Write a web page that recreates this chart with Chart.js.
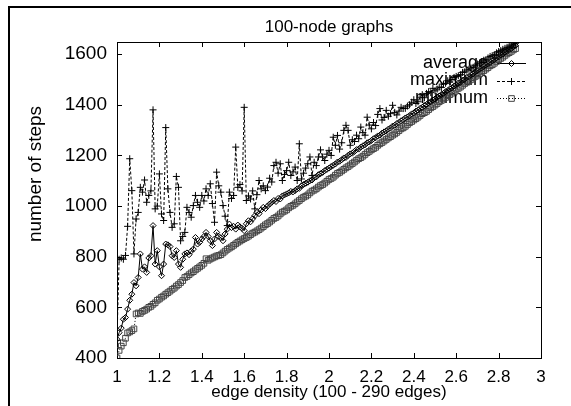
<!DOCTYPE html>
<html>
<head>
<meta charset="utf-8">
<script src="https://cdn.jsdelivr.net/npm/chart.js@4/dist/chart.umd.min.js"></script>
<style>
  html, body { margin: 0; padding: 0; background: #fff; }
  #wrap { width: 571px; height: 406px; }
</style>
</head>
<body>
<div id="wrap"><canvas id="c" width="571" height="406"></canvas></div>
<script>
// edges in a 100-node graph; density = edges / 100
const edgeCounts = [
  100, 101, 102, 103, 104, 105, 106, 107, 108, 109,
  110, 111, 112, 113, 114, 115, 116, 117, 118, 119,
  120, 121, 122, 123, 124, 125, 126, 127, 128, 129,
  130, 131, 132, 133, 134, 135, 136, 137, 138, 139,
  140, 141, 142, 143, 144, 145, 146, 147, 148, 149,
  150, 151, 152, 153, 154, 155, 156, 157, 158, 159,
  160, 161, 162, 163, 164, 165, 166, 167, 168, 169,
  170, 171, 172, 173, 174, 175, 176, 177, 178, 179,
  180, 181, 182, 183, 184, 185, 186, 187, 188, 189,
  190, 191, 192, 193, 194, 195, 196, 197, 198, 199,
  200, 201, 202, 203, 204, 205, 206, 207, 208, 209,
  210, 211, 212, 213, 214, 215, 216, 217, 218, 219,
  220, 221, 222, 223, 224, 225, 226, 227, 228, 229,
  230, 231, 232, 233, 234, 235, 236, 237, 238, 239,
  240, 241, 242, 243, 244, 245, 246, 247, 248, 249,
  250, 251, 252, 253, 254, 255, 256, 257, 258, 259,
  260, 261, 262, 263, 264, 265, 266, 267, 268, 269,
  270, 271, 272, 273, 274, 275, 276, 277, 278, 279,
  280, 281, 282, 283, 284, 285, 286, 287, 288
];

const avgSteps = [
  474, 500, 518, 553, 560, 593, 628, 652, 698, 685,
  718, 811, 751, 760, 738, 795, 804, 923, 771, 824,
  760, 725, 771, 850, 847, 840, 804, 797, 824, 771,
  758, 790, 811, 815, 808, 822, 830, 876, 850, 857,
  870, 880, 896, 880, 863, 844, 870, 896, 880, 875,
  863, 890, 909, 929, 915, 920, 909, 925, 918, 912,
  903, 930, 942, 938, 950, 962, 975, 970, 985, 995,
  990, 1000, 1008, 1015, 1022, 1018, 1030, 1028, 1040, 1044,
  1048, 1052, 1058, 1056, 1061, 1068, 1070, 1080, 1085, 1090,
  1094, 1100, 1103, 1112, 1115, 1124, 1128, 1133, 1140, 1145,
  1150, 1156, 1161, 1166, 1174, 1177, 1183, 1190, 1192, 1200,
  1206, 1209, 1216, 1223, 1225, 1233, 1238, 1242, 1250, 1253,
  1259, 1266, 1270, 1277, 1280, 1288, 1293, 1297, 1304, 1308,
  1316, 1319, 1326, 1330, 1337, 1341, 1348, 1352, 1357, 1364,
  1368, 1375, 1379, 1386, 1390, 1397, 1401, 1408, 1412, 1419,
  1423, 1430, 1434, 1441, 1445, 1452, 1456, 1463, 1467, 1474,
  1478, 1486, 1489, 1497, 1500, 1508, 1511, 1519, 1522, 1530,
  1534, 1541, 1545, 1552, 1556, 1563, 1567, 1575, 1578, 1586,
  1589, 1597, 1600, 1608, 1611, 1619, 1622, 1630, 1634
];

const maxSteps = [
  470, 790, 795, 790, 805, 920, 1187, 1061, 811, 949,
  975, 1074, 1055, 1103, 1015, 1042, 1060, 1380, 989, 1000,
  1127, 969, 943, 1310, 1068, 975, 916, 930, 1117, 1074,
  863, 880, 896, 995, 975, 956, 1002, 1042, 1015, 995,
  1042, 1020, 1068, 1042, 1088, 1010, 936, 1134, 1080, 1055,
  1002, 960, 923, 1055, 1030, 1042, 1233, 1074, 1085, 1060,
  1390, 1022, 1040, 1028, 1060, 989, 1045, 1101, 1068, 1080,
  1061, 1075, 1110, 1095, 1160, 1173, 1130, 1167, 1101, 1125,
  1140, 1173, 1121, 1135, 1154, 1101, 1246, 1107, 1130, 1150,
  1167, 1194, 1121, 1173, 1160, 1194, 1222, 1194, 1180, 1205,
  1220, 1200, 1272, 1240, 1279, 1225, 1250, 1299, 1319, 1299,
  1240, 1262, 1255, 1280, 1266, 1312, 1290, 1280, 1351, 1320,
  1305, 1330, 1318, 1362, 1385, 1340, 1350, 1378, 1355, 1365,
  1398, 1370, 1360, 1375, 1390, 1385, 1386, 1395, 1400, 1410,
  1420, 1405, 1412, 1430, 1440, 1428, 1445, 1452, 1448, 1465,
  1455, 1462, 1470, 1468, 1482, 1485, 1495, 1490, 1500, 1508,
  1512, 1515, 1519, 1528, 1530, 1537, 1541, 1545, 1548, 1556,
  1561, 1565, 1570, 1576, 1578, 1585, 1591, 1594, 1598, 1605,
  1610, 1614, 1619, 1623, 1627, 1632, 1636, 1640, 1643
];

const minSteps = [
  400, 430, 447, 460, 478, 499, 503, 508, 515, 574,
  578, 576, 584, 588, 593, 600, 604, 612, 618, 628,
  633, 640, 645, 652, 658, 664, 671, 676, 684, 690,
  698, 706, 718, 722, 729, 736, 741, 748, 754, 760,
  766, 774, 792, 786, 791, 795, 799, 803, 805, 808,
  815, 822, 829, 834, 839, 845, 851, 857, 862, 867,
  872, 876, 881, 887, 893, 897, 902, 907, 913, 919,
  926, 931, 937, 944, 951, 955, 961, 969, 976, 980,
  985, 993, 999, 1003, 1009, 1016, 1022, 1029, 1035, 1039,
  1044, 1052, 1059, 1063, 1068, 1075, 1081, 1085, 1091, 1098,
  1105, 1109, 1114, 1122, 1129, 1133, 1139, 1145, 1151, 1156,
  1162, 1168, 1174, 1181, 1187, 1191, 1197, 1204, 1211, 1216,
  1222, 1227, 1232, 1240, 1246, 1251, 1257, 1263, 1269, 1274,
  1280, 1285, 1291, 1298, 1305, 1309, 1315, 1322, 1329, 1334,
  1340, 1345, 1351, 1358, 1365, 1369, 1374, 1381, 1388, 1393,
  1399, 1405, 1412, 1417, 1423, 1429, 1436, 1440, 1446, 1453,
  1461, 1465, 1470, 1477, 1484, 1489, 1494, 1500, 1507, 1512,
  1517, 1523, 1530, 1535, 1541, 1547, 1554, 1558, 1564, 1571,
  1578, 1583, 1588, 1595, 1601, 1606, 1611, 1617, 1622
];

const xTicks = [1, 1.2, 1.4, 1.6, 1.8, 2, 2.2, 2.4, 2.6, 2.8, 3];
const yTicks = [400, 600, 800, 1000, 1200, 1400, 1600];

const FONT = "'Liberation Sans', Arial, sans-serif";
Chart.defaults.font.family = FONT;
Chart.defaults.font.size = 17;
Chart.defaults.color = "#000";

const toPoints = (vals) => vals.map((v, i) => ({ x: edgeCounts[i] / 100, y: v }));

const seriesStyle = [
  { label: "average", data: avgSteps, dash: [], pointStyle: "rectRot", radius: 3, color: "#000" },
  { label: "maximum", data: maxSteps, dash: [3, 2], pointStyle: "cross", radius: 3.5, color: "#000" },
  { label: "minimum", data: minSteps, dash: [1, 2], pointStyle: "rect", radius: 4, color: "#444" },
];

const datasets = seriesStyle.map((s) => ({
  label: s.label,
  data: toPoints(s.data),
  showLine: true,
  borderColor: "#000",
  borderWidth: 1,
  borderDash: s.dash,
  pointStyle: s.pointStyle,
  pointRadius: s.radius,
  pointBorderColor: s.color,
  pointBackgroundColor: "rgba(0,0,0,0)",
  pointBorderWidth: 1,
  tension: 0,
}));

// gnuplot-like frame, inward ticks, titles and key
const gnuplotFrame = {
  id: "gnuplotFrame",
  beforeDatasetsDraw(chart) {
    const { ctx, chartArea: a, scales } = chart;
    const sx = scales.x, sy = scales.y;
    ctx.save();

    ctx.strokeStyle = "#000";
    ctx.lineWidth = 2;
    ctx.beginPath();
    ctx.moveTo(9, 406);
    ctx.lineTo(9, 7);
    ctx.lineTo(571, 7);
    ctx.stroke();

    ctx.lineWidth = 1;
    ctx.strokeRect(a.left + 0.5, a.top + 0.5, a.right - a.left, a.bottom - a.top);

    const tl = 5;
    ctx.beginPath();
    xTicks.forEach((v) => {
      const px = Math.round(sx.getPixelForValue(v)) + 0.5;
      ctx.moveTo(px, a.bottom); ctx.lineTo(px, a.bottom - tl);
      ctx.moveTo(px, a.top); ctx.lineTo(px, a.top + tl);
    });
    yTicks.forEach((v) => {
      const py = Math.round(sy.getPixelForValue(v)) + 0.5;
      ctx.moveTo(a.left, py); ctx.lineTo(a.left + tl, py);
      ctx.moveTo(a.right, py); ctx.lineTo(a.right - tl, py);
    });
    ctx.stroke();

    ctx.fillStyle = "#000";
    ctx.font = `17px ${FONT}`;
    ctx.textAlign = "center";
    ctx.textBaseline = "middle";
    const cx = (a.left + a.right) / 2;
    ctx.fillText("100-node graphs", cx, 27);
    ctx.fillText("edge density (100 - 290 edges)", cx, 392);
    ctx.save();
    ctx.font = `19px ${FONT}`;
    ctx.translate(36, 174);
    ctx.rotate(-Math.PI / 2);
    ctx.fillText("number of steps", 0, 0);
    ctx.restore();

    // key
    const rows = [63, 80.5, 98];
    ctx.font = `18px ${FONT}`;
    ctx.textAlign = "right";
    chart.data.datasets.forEach((ds, i) => {
      const y = Math.round(rows[i]) + 0.5;
      ctx.fillStyle = "#000";
      ctx.fillText(ds.label, 488, rows[i]);
      ctx.save();
      ctx.strokeStyle = "#000";
      ctx.lineWidth = 1;
      ctx.setLineDash(ds.borderDash);
      ctx.beginPath();
      ctx.moveTo(497, y);
      ctx.lineTo(526, y);
      ctx.stroke();
      ctx.setLineDash([]);
      ctx.strokeStyle = ds.pointBorderColor;
      ctx.fillStyle = "rgba(0,0,0,0)";
      Chart.helpers.drawPoint(ctx, {
        pointStyle: ds.pointStyle,
        radius: ds.pointRadius,
        rotation: 0,
        borderWidth: 1,
      }, 511.5, y);
      ctx.restore();
    });

    ctx.restore();
  },
};

new Chart(document.getElementById("c"), {
  type: "scatter",
  data: { datasets },
  options: {
    responsive: false,
    maintainAspectRatio: false,
    animation: false,
    devicePixelRatio: 1,
    layout: { padding: { top: 42, right: 30, left: 0, bottom: 0 } },
    plugins: {
      legend: { display: false },
      title: { display: false },
      tooltip: { enabled: false },
    },
    scales: {
      x: {
        type: "linear",
        min: 1,
        max: 3,
        afterBuildTicks: (s) => { s.ticks = xTicks.map((v) => ({ value: v })); },
        afterFit: (s) => { s.height = 48; },
        grid: { display: false, drawTicks: false },
        border: { display: false },
        ticks: {
          padding: 9,
          color: "#000",
          font: { family: FONT, size: 17 },
          maxRotation: 0,
          autoSkip: false,
          callback: (v) => String(Math.round(v * 10) / 10),
        },
      },
      y: {
        type: "linear",
        min: 400,
        max: 1648,
        afterBuildTicks: (s) => { s.ticks = yTicks.map((v) => ({ value: v })); },
        afterFit: (s) => { s.width = 117; },
        grid: { display: false, drawTicks: false },
        border: { display: false },
        ticks: {
          padding: 10,
          color: "#000",
          font: { family: FONT, size: 19 },
          autoSkip: false,
          callback: (v) => String(v),
        },
      },
    },
  },
  plugins: [gnuplotFrame],
});
</script>
</body>
</html>
